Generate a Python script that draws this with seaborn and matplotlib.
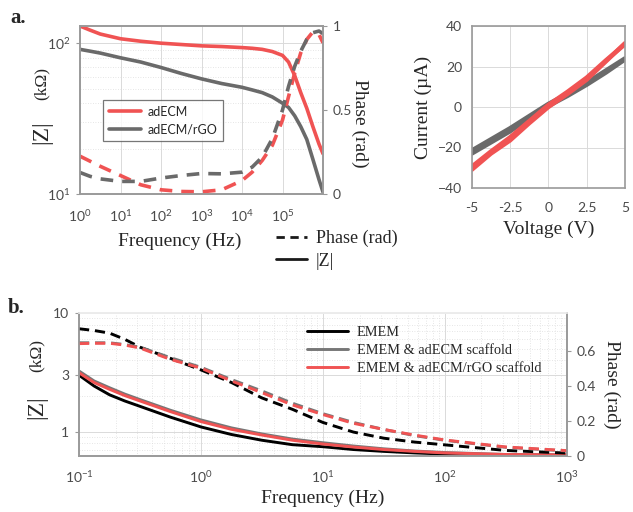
import numpy as np
import pandas as pd
import matplotlib
matplotlib.use("Agg")
import matplotlib.pyplot as plt
import seaborn as sns
from matplotlib.lines import Line2D
from matplotlib.ticker import FixedLocator, FuncFormatter, LogLocator, NullFormatter

# --- panel a (left): impedance spectra of the scaffolds ---
freq_a = [1, 1.78, 3.16, 10, 31.6, 100, 316, 1e3, 3.16e3, 1e4, 1.78e4, 3.16e4, 5.62e4,
          1e5, 1.41e5, 2e5, 2.82e5, 3.98e5, 5.62e5, 7.94e5, 1e6]
z_adecm = [130, 122, 115, 107, 103, 100, 98, 96, 95, 93.5, 92.5, 91, 88,
           83, 75, 61, 47, 37, 28, 21.5, 18.5]
z_rgo = [91, 88.5, 86, 80, 75, 69, 63, 58, 54, 51, 49, 47, 44,
         40, 37.5, 33, 28, 23, 17, 12.5, 10.3]
ph_adecm = [0.225, 0.195, 0.165, 0.11, 0.055, 0.025, 0.015, 0.013, 0.025, 0.08, 0.13, 0.2, 0.29,
            0.44, 0.58, 0.72, 0.84, 0.92, 0.965, 0.95, 0.9]
ph_rgo = [0.128, 0.105, 0.09, 0.075, 0.075, 0.095, 0.11, 0.122, 0.12, 0.13, 0.16, 0.22, 0.33,
          0.5, 0.64, 0.76, 0.85, 0.92, 0.96, 0.97, 0.955]

# --- panel a (right): I-V sweeps ---
volt = [-5, -3.75, -2.5, -1.25, 0, 1.25, 2.5, 3.75, 5]
iv_red_up = [-31, -23, -16.5, -8, 0, 6.5, 13.5, 22.5, 31.5]
iv_red_down = [-29.5, -22, -15, -7, 1, 7.5, 14.5, 23, 31]
iv_gray_up = [-23, -17.5, -12, -5.5, 0.5, 5.5, 11, 17, 23.5]
iv_gray_down = [-21.5, -16, -10.5, -4.5, 1.5, 6.5, 12, 18, 24]

# --- panel b: medium with / without scaffolds ---
freq_b = [0.1, 0.133, 0.178, 0.237, 0.316, 0.562, 1, 1.78, 3.16, 5.62, 10, 17.8, 31.6, 56.2, 100, 316, 1000]
z_emem = [3.0, 2.43, 2.05, 1.82, 1.64, 1.33, 1.10, 0.95, 0.85, 0.78, 0.75, 0.71, 0.685, 0.665, 0.65, 0.64, 0.635]
z_emem_adecm = [3.25, 2.68, 2.35, 2.08, 1.87, 1.52, 1.26, 1.08, 0.96, 0.87, 0.81, 0.76, 0.72, 0.69, 0.67, 0.645, 0.64]
z_emem_rgo = [3.14, 2.6, 2.28, 2.02, 1.82, 1.48, 1.22, 1.05, 0.94, 0.85, 0.79, 0.745, 0.71, 0.685, 0.665, 0.645, 0.64]
ph_emem = [0.725, 0.715, 0.70, 0.665, 0.62, 0.556, 0.49, 0.418, 0.33, 0.265, 0.19, 0.135, 0.1, 0.078, 0.062, 0.03, 0.015]
ph_emem_adecm = [0.645, 0.645, 0.645, 0.635, 0.62, 0.56, 0.505, 0.435, 0.37, 0.30, 0.24, 0.19, 0.15, 0.115, 0.088, 0.048, 0.027]
ph_emem_rgo = [0.64, 0.642, 0.642, 0.632, 0.615, 0.55, 0.50, 0.427, 0.36, 0.29, 0.235, 0.185, 0.15, 0.118, 0.09, 0.05, 0.029]
labels_b = ["EMEM", "EMEM & adECM scaffold", "EMEM & adECM/rGO scaffold"]

RED = "#f05353"
GRAY = "#6a6a6a"
SPINE = "#9a9a9a"
TICK = "#4a4a4a"

sns.set_theme(style="white")
plt.rcParams["font.family"] = ["Lato", "DejaVu Sans"]
plt.rcParams["mathtext.fontset"] = "custom"
plt.rcParams["mathtext.rm"] = "Lato"
plt.rcParams["mathtext.it"] = "Lato:italic"
plt.rcParams["mathtext.bf"] = "Lato:bold"
SERIF = ["Liberation Serif", "DejaVu Serif"]

fig = plt.figure(figsize=(6.33, 5.12), dpi=100)


def pow10(v, pos):
    return f"$10^{{{int(round(np.log10(v)))}}}$"


def style_box(ax, top=SPINE, pad=4):
    for side in ["left", "bottom", "right"]:
        ax.spines[side].set_color(SPINE)
        ax.spines[side].set_linewidth(1.2)
    ax.spines["top"].set_color(top)
    ax.spines["top"].set_linewidth(1.2)
    ax.tick_params(which="major", length=3, width=0.8, color=SPINE, labelsize=10, labelcolor=TICK, pad=pad)
    ax.tick_params(which="minor", length=0)


def grids(ax):
    ax.grid(True, which="major", color="#dadada", lw=0.7)
    ax.grid(True, which="minor", color="#dddddd", lw=0.6, ls=(0, (1, 2)))


def z_label(ax, x, y_z, y_unit):
    # big |Z| with a smaller unit, as in the original
    ax.text(x, y_z, "|Z|", transform=ax.transAxes, rotation=90, family=SERIF, fontsize=17,
            ha="center", va="center")
    ax.text(x, y_unit, "(kΩ)", transform=ax.transAxes, rotation=90, family=SERIF, fontsize=12.5,
            ha="center", va="center")


# ===== panel a, impedance =====
ax1 = fig.add_axes([80 / 633, 1 - 194 / 512, 243 / 633, 168 / 512])
sns.lineplot(x=freq_a, y=z_adecm, ax=ax1, color=RED, lw=2.6, label="adECM", sort=False)
sns.lineplot(x=freq_a, y=z_rgo, ax=ax1, color=GRAY, lw=2.6, label="adECM/rGO", sort=False)
ax1.set_xscale("log")
ax1.set_yscale("log")
ax1.set_xlim(1, 1e6)
ax1.set_ylim(10, 130)
ax1.xaxis.set_major_locator(FixedLocator([1, 10, 100, 1e3, 1e4, 1e5]))
ax1.xaxis.set_major_formatter(FuncFormatter(pow10))
ax1.xaxis.set_minor_locator(LogLocator(subs=np.arange(2, 10)))
ax1.yaxis.set_major_locator(FixedLocator([10, 100]))
ax1.yaxis.set_major_formatter(FuncFormatter(pow10))
ax1.yaxis.set_minor_locator(LogLocator(subs=np.arange(2, 10)))
ax1.yaxis.set_minor_formatter(NullFormatter())
grids(ax1)
style_box(ax1)
ax1.tick_params(axis="x", pad=7)
z_label(ax1, -0.156, 0.37, 0.66)
ax1.legend(loc="upper left", bbox_to_anchor=(0.095, 0.56), borderaxespad=0, frameon=True, fancybox=False,
           edgecolor="#555555", fontsize=9, handlelength=2.6, handletextpad=0.5,
           borderpad=0.45, labelspacing=0.45)
ax1.get_legend().get_frame().set_linewidth(0.9)

ax1r = ax1.twinx()
sns.lineplot(x=freq_a, y=ph_adecm, ax=ax1r, color=RED, lw=2.6, ls=(0, (3.5, 2.5)), sort=False)
sns.lineplot(x=freq_a, y=ph_rgo, ax=ax1r, color=GRAY, lw=2.6, ls=(0, (3.5, 2.5)), sort=False)
ax1r.set_ylim(0, 1)
ax1r.set_yticks([0, 0.5, 1])
ax1r.set_yticklabels(["0", "0.5", "1"])
style_box(ax1r)
ax1r.set_ylabel("Phase (rad)", family=SERIF, fontsize=14, rotation=270, labelpad=12)
ax1r.yaxis.set_label_coords(1.185, 0.42)

fig.text(180 / 633, 1 - 241 / 512, "Frequency (Hz)", family=SERIF, fontsize=14, ha="center", va="center")
fig.legend(handles=[Line2D([], [], color="k", lw=2, ls=(0, (3, 2))), Line2D([], [], color="k", lw=2)],
           labels=["Phase (rad)", "|Z|"], loc="upper left", bbox_to_anchor=(276 / 633, 1 - 230 / 512),
           borderaxespad=0, frameon=False, prop={"family": SERIF, "size": 13}, handlelength=1.7,
           handletextpad=0.5, labelspacing=0.3, borderpad=0)

# ===== panel a, I-V =====
ax2 = fig.add_axes([471.7 / 633, 1 - 188 / 512, 153.3 / 633, 162 / 512])
iv = pd.DataFrame({"V": volt * 4,
                   "I": iv_red_up + iv_red_down + iv_gray_up + iv_gray_down,
                   "sweep": ["r1"] * 9 + ["r2"] * 9 + ["g1"] * 9 + ["g2"] * 9})
sns.lineplot(data=iv, x="V", y="I", hue="sweep", ax=ax2, lw=3.2, legend=False,
             palette={"r1": RED, "r2": RED, "g1": GRAY, "g2": GRAY}, hue_order=["g1", "g2", "r1", "r2"])
ax2.set_xlim(-5, 5)
ax2.set_ylim(-40, 40)
ax2.set_xticks([-5, -2.5, 0, 2.5, 5])
ax2.set_xticklabels(["-5", "-2.5", "0", "2.5", "5"])
ax2.set_yticks([-40, -20, 0, 20, 40])
ax2.grid(True, color="#dadada", lw=0.7)
style_box(ax2)
ax2.tick_params(axis="x", pad=7)
ax2.set_xlabel("Voltage (V)", family=SERIF, fontsize=14, labelpad=5)
ax2.set_ylabel("Current (µA)", family=SERIF, fontsize=14, labelpad=4)

# ===== panel b =====
ax3 = fig.add_axes([79 / 633, 1 - 455.7 / 512, 487.7 / 633, 142.7 / 512])
for vals, col, lab in zip([z_emem, z_emem_adecm, z_emem_rgo], ["black", "#777777", RED], labels_b):
    sns.lineplot(x=freq_b, y=vals, ax=ax3, color=col, lw=2.1, label=lab, sort=False)
ax3.set_xscale("log")
ax3.set_yscale("log")
ax3.set_xlim(0.1, 1000)
ax3.set_ylim(0.63, 10)
ax3.xaxis.set_major_locator(FixedLocator([0.1, 1, 10, 100, 1000]))
ax3.xaxis.set_major_formatter(FuncFormatter(pow10))
ax3.xaxis.set_minor_locator(LogLocator(subs=np.arange(2, 10)))
ax3.yaxis.set_major_locator(FixedLocator([1, 3, 10]))
ax3.yaxis.set_major_formatter(FuncFormatter(lambda v, p: f"{v:g}"))
ax3.yaxis.set_minor_locator(LogLocator(subs=np.arange(2, 10)))
ax3.yaxis.set_minor_formatter(NullFormatter())
grids(ax3)
style_box(ax3, top="#ececec")
ax3.tick_params(axis="x", pad=7)
z_label(ax3, -0.086, 0.34, 0.70)
ax3.set_xlabel("Frequency (Hz)", family=SERIF, fontsize=14, labelpad=3)
ax3.legend(loc="upper left", bbox_to_anchor=(0.455, 0.95), borderaxespad=0, frameon=False,
           prop={"family": SERIF, "size": 10.3}, handlelength=2.9, handletextpad=0.6,
           labelspacing=0.35, borderpad=0.4)

ax3r = ax3.twinx()
for vals, col in zip([ph_emem, ph_emem_adecm, ph_emem_rgo], ["black", "#777777", RED]):
    sns.lineplot(x=freq_b, y=vals, ax=ax3r, color=col, lw=2.1, ls=(0, (3.5, 2)), sort=False)
ax3r.set_ylim(0, 0.815)
ax3r.set_yticks([0, 0.2, 0.4, 0.6])
ax3r.set_yticklabels(["0", "0.2", "0.4", "0.6"])
style_box(ax3r, top="#ececec")
ax3r.set_ylabel("Phase (rad)", family=SERIF, fontsize=14, rotation=270, labelpad=18)

fig.text(10 / 633, 1 - 18 / 512, "a.", family=SERIF, fontsize=15, fontweight="bold", va="center")
fig.text(8 / 633, 1 - 308 / 512, "b.", family=SERIF, fontsize=15, fontweight="bold", va="center")

fig.savefig("out.png", dpi=100)
